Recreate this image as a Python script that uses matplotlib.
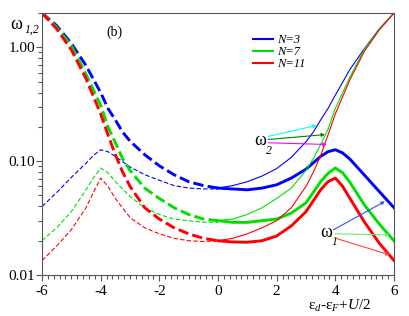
import numpy as np
import matplotlib
matplotlib.use("Agg")
import matplotlib.pyplot as plt
from matplotlib.ticker import MultipleLocator, LogLocator, FixedLocator, FuncFormatter, NullFormatter

plt.rcParams['font.family'] = ['Liberation Serif', 'DejaVu Serif']
plt.rcParams['mathtext.fontset'] = 'custom'
plt.rcParams['mathtext.rm'] = 'Liberation Serif'
plt.rcParams['mathtext.it'] = 'Liberation Serif:italic'
plt.rcParams['axes.unicode_minus'] = False
plt.rcParams['lines.scale_dashes'] = False

# left half (dashed): upper branch (thick) and peaked branch (thin)
x_up_left = [-6, -5.5, -5, -4.5, -4, -3.75, -3.5, -3.25, -3, -2.5, -2, -1.5, -1, -0.5, 0]
up_left_n3 = [2.0, 1.55, 1.08, 0.69, 0.40, 0.29, 0.23, 0.18, 0.15, 0.114, 0.091, 0.076, 0.066, 0.061, 0.058]
up_left_n7 = [2.0, 1.50, 1.03, 0.58, 0.31, 0.20, 0.145, 0.105, 0.083, 0.058, 0.047, 0.039, 0.034, 0.031, 0.030]
up_left_n11 = [2.0, 1.45, 0.95, 0.53, 0.26, 0.17, 0.114, 0.080, 0.060, 0.039, 0.031, 0.026, 0.023, 0.021, 0.020]

x_pk_left = [-6, -5.5, -5, -4.5, -4.25, -4, -3.75, -3.5, -3, -2.5, -2, -1.5, -1, -0.5, 0]
pk_left_n3 = [0.040, 0.053, 0.072, 0.096, 0.112, 0.126, 0.121, 0.110, 0.089, 0.076, 0.068, 0.061, 0.058, 0.057, 0.057]
pk_left_n7 = [0.020, 0.026, 0.036, 0.056, 0.071, 0.087, 0.079, 0.066, 0.049, 0.039, 0.034, 0.031, 0.030, 0.029, 0.029]
pk_left_n11 = [0.0134, 0.018, 0.025, 0.039, 0.053, 0.071, 0.060, 0.047, 0.032, 0.026, 0.023, 0.021, 0.020, 0.0197, 0.020]

# right half (solid): peaked branch (thick) and rising branch (thin)
x_pk_right = [0, 0.5, 1, 1.5, 2, 2.5, 3, 3.5, 3.75, 4, 4.25, 4.5, 5, 5.5, 6]
pk_right_n3 = [0.058, 0.057, 0.056, 0.058, 0.062, 0.071, 0.085, 0.110, 0.121, 0.126, 0.118, 0.104, 0.075, 0.054, 0.039]
pk_right_n7 = [0.030, 0.029, 0.029, 0.030, 0.031, 0.035, 0.043, 0.066, 0.078, 0.087, 0.079, 0.065, 0.041, 0.028, 0.020]
pk_right_n11 = [0.020, 0.0195, 0.0194, 0.020, 0.022, 0.027, 0.036, 0.056, 0.066, 0.071, 0.060, 0.047, 0.029, 0.019, 0.0134]

x_up_right = [0, 0.5, 1, 1.5, 2, 2.5, 3, 3.25, 3.5, 3.75, 4, 4.5, 5, 5.5, 6]
up_right_n3 = [0.058, 0.061, 0.066, 0.074, 0.086, 0.108, 0.148, 0.18, 0.23, 0.29, 0.38, 0.64, 0.98, 1.45, 2.0]
up_right_n7 = [0.030, 0.031, 0.034, 0.039, 0.047, 0.058, 0.083, 0.105, 0.14, 0.19, 0.29, 0.55, 0.97, 1.45, 2.0]
up_right_n11 = [0.020, 0.021, 0.023, 0.026, 0.030, 0.039, 0.060, 0.080, 0.112, 0.17, 0.26, 0.52, 0.93, 1.42, 2.0]

labels = ['N=3', 'N=7', 'N=11']
colors = ['#0000ff', '#00e000', '#ff0000']

fig = plt.figure(figsize=(4.09, 3.16), dpi=100)
ax = fig.add_axes([0.1027, 0.1297, 0.8606, 0.8292])

thick, thin = 2.1, 0.8
ups_l = [up_left_n3, up_left_n7, up_left_n11]
pks_l = [pk_left_n3, pk_left_n7, pk_left_n11]
pks_r = [pk_right_n3, pk_right_n7, pk_right_n11]
ups_r = [up_right_n3, up_right_n7, up_right_n11]
handles = []
for i in range(3):
    c = colors[i]
    ax.plot(x_pk_left, pks_l[i], color=c, lw=thin, dashes=(3.2, 1.6))
    ax.plot(x_up_right, ups_r[i], color=c, lw=thin)
    ax.plot(x_up_left, ups_l[i], color=c, lw=thick, dashes=(7.5, 3))
    h, = ax.plot(x_pk_right, pks_r[i], color=c, lw=thick)
    handles.append(h)

ax.set_yscale('log')
ax.set_xlim(-6, 6)
ax.set_ylim(0.01, 2.0)

ax.xaxis.set_major_locator(MultipleLocator(2))
ax.xaxis.set_minor_locator(MultipleLocator(0.2))
ax.yaxis.set_major_locator(FixedLocator([0.01, 0.1, 1.0]))
ax.yaxis.set_minor_locator(LogLocator(base=10, subs=np.arange(2, 10)))
ax.yaxis.set_major_formatter(FuncFormatter(lambda v, p: '%.2f' % v))
ax.yaxis.set_minor_formatter(NullFormatter())

ax.tick_params(which='both', direction='out', top=False, right=False,
               colors='#555555', labelcolor='black', labelsize=11, width=0.8)
ax.tick_params(which='major', length=4)
ax.tick_params(which='minor', length=3)
ax.tick_params(axis='x', pad=3.5)
ax.tick_params(axis='y', pad=1)
for s in ax.spines.values():
    s.set_color('#555555')
    s.set_linewidth(0.8)

leg = ax.legend(handles, labels, loc='upper left', bbox_to_anchor=(0.6, 0.92),
                frameon=False, handlelength=1.6, handletextpad=0.3,
                labelspacing=0.0, borderpad=0, borderaxespad=0,
                prop={'family': 'Liberation Serif', 'style': 'italic', 'size': 9})
for l in leg.get_lines():
    l.set_linewidth(1.5)

ax.text(0.207, 0.927, '(b)', transform=ax.transAxes, ha='center', va='center', fontsize=10)

# omega_2 annotations
ax.text(1.43, 0.152, 'ω', ha='center', va='center', fontsize=13)
ax.text(1.74, 0.122, '2', ha='center', va='center', fontsize=8.5, style='italic')
for (x0, y0, x1, y1, c) in [(1.715, 0.165, 3.365, 0.206, '#00ffff'),
                            (1.715, 0.155, 3.65, 0.171, '#008000'),
                            (1.715, 0.145, 3.706, 0.140, '#ff00ff')]:
    ax.annotate('', xy=(x1, y1), xytext=(x0, y0),
                arrowprops=dict(arrowstyle='-|>', color=c, lw=0.8, mutation_scale=5,
                                shrinkA=0, shrinkB=0))

# omega_1 annotations
ax.text(3.68, 0.0235, 'ω', ha='center', va='center', fontsize=13)
ax.text(3.98, 0.0193, '1', ha='center', va='center', fontsize=8.5, style='italic')
for (x0, y0, x1, y1, c) in [(3.93, 0.0249, 5.69, 0.0443, '#3050ff'),
                            (3.99, 0.0230, 5.86, 0.0225, '#60f060'),
                            (3.99, 0.0211, 5.86, 0.0150, '#ff4040')]:
    ax.annotate('', xy=(x1, y1), xytext=(x0, y0),
                arrowprops=dict(arrowstyle='-|>', color=c, lw=0.8, mutation_scale=5,
                                shrinkA=0, shrinkB=0))

# axis labels
fig.text(0.039, 0.921, 'ω', ha='center', va='center', fontsize=13)
fig.text(0.078, 0.905, '1,2', ha='center', va='center', fontsize=8.5, style='italic')
fig.text(0.83, 0.033, r'ε$_{\mathit{d}}$-ε$_{\mathit{F}}$+$\mathit{U}$/2', ha='center',
         va='center', fontsize=11)

fig.savefig('out.png', dpi=100)
